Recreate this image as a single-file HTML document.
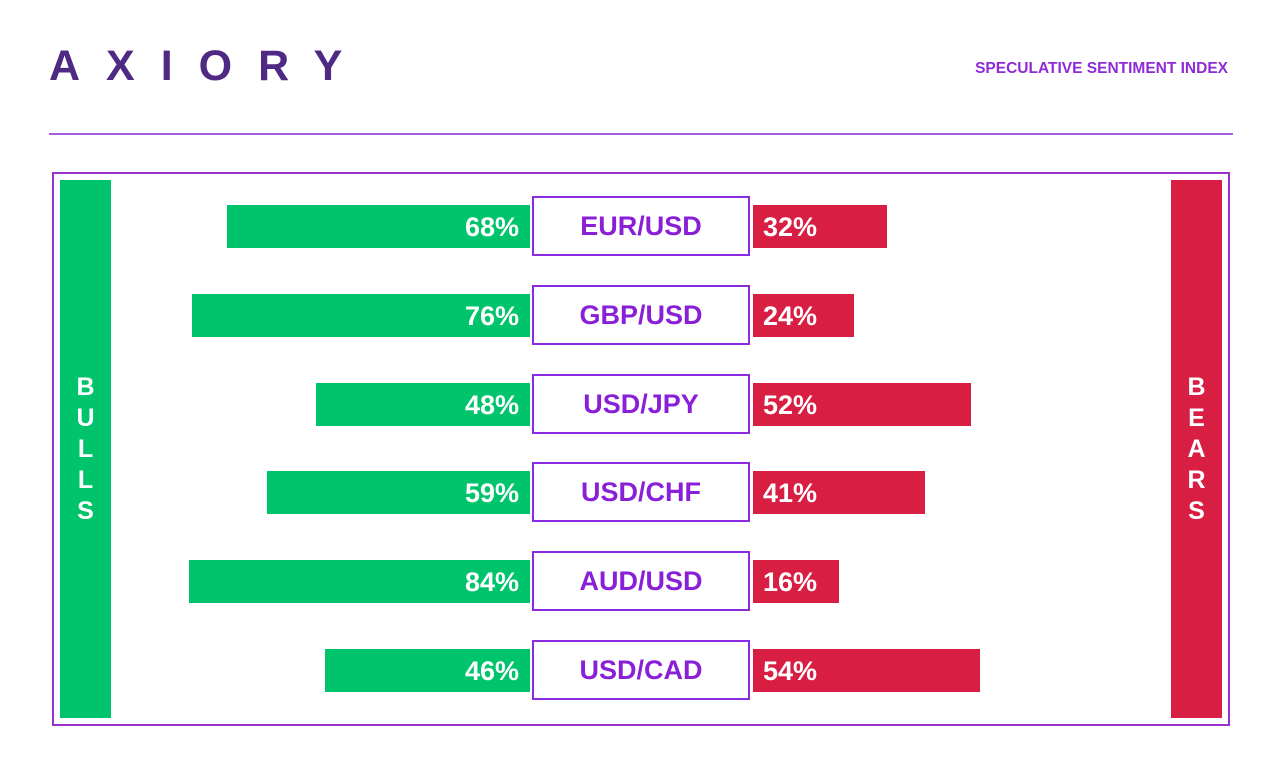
<!DOCTYPE html>
<html><head><meta charset="utf-8"><style>
body{margin:0;width:1280px;height:780px;background:#fff;position:relative;overflow:hidden;font-family:"Liberation Sans",sans-serif}
.abs{position:absolute}
.logo{left:49px;top:42px;font-size:43px;font-weight:bold;color:#4e2a84;letter-spacing:26px}
.title{right:52px;top:60px;font-size:15.5px;font-weight:bold;color:#8f2ad6}
.rule{left:49px;top:133px;width:1184px;height:2px;background:#a45ee0}
.frame{left:52px;top:172px;width:1174px;height:550px;border:2px solid #9b2fd0}
.side{width:51px;top:180px;height:538px;color:#fff;font-weight:bold;font-size:25px;text-align:center;display:flex;align-items:center;justify-content:center;line-height:31px}
.bar{height:43px;color:#fff;font-weight:bold;font-size:27px;line-height:45px;box-sizing:border-box}
.lab{left:532px;width:218px;height:60px;box-sizing:border-box;border:2px solid #8a2be2;color:#8a1fd8;font-weight:bold;font-size:27px;text-align:center;line-height:56px}
</style></head><body>
<div class="abs logo">AXIORY</div>
<div class="abs title">SPECULATIVE SENTIMENT INDEX</div>
<div class="abs rule"></div>
<div class="abs frame"></div>
<div class="abs side" style="left:60px;background:#00c46c">B<br>U<br>L<br>L<br>S</div>
<div class="abs side" style="left:1171px;background:#d91e43">B<br>E<br>A<br>R<br>S</div>
<div id="chart"></div>
<script>
const pairs=["EUR/USD","GBP/USD","USD/JPY","USD/CHF","AUD/USD","USD/CAD"];
const bulls=[68,76,48,59,84,46];
const bears=[32,24,52,41,16,54];
const c=document.getElementById('chart');
const rowY=i=>205+i*88.8;
const gW=v=>Math.min(v*4.45,341);
const rW=v=>Math.max(v*4.2,86);
pairs.forEach((p,i)=>{
 const y=rowY(i);
 const g=document.createElement('div');
 g.className='abs bar';
 
 
 g.style.cssText=`left:${530-gW(bulls[i])}px;top:${y}px;width:${gW(bulls[i])}px;background:#00c46c;text-align:right;padding-right:11px`;
 g.textContent=bulls[i]+'%';c.appendChild(g);
 const r=document.createElement('div');
 r.className='abs bar';
 
 
 r.style.cssText=`left:753px;top:${y}px;width:${rW(bears[i])}px;background:#d91e43;padding-left:10px;white-space:nowrap`;
 r.textContent=bears[i]+'%';c.appendChild(r);
 const l=document.createElement('div');
 l.className='abs lab';
 
 
 l.style.top=(y-9)+'px';
 l.textContent=p;c.appendChild(l);
});
</script>
</body></html>
